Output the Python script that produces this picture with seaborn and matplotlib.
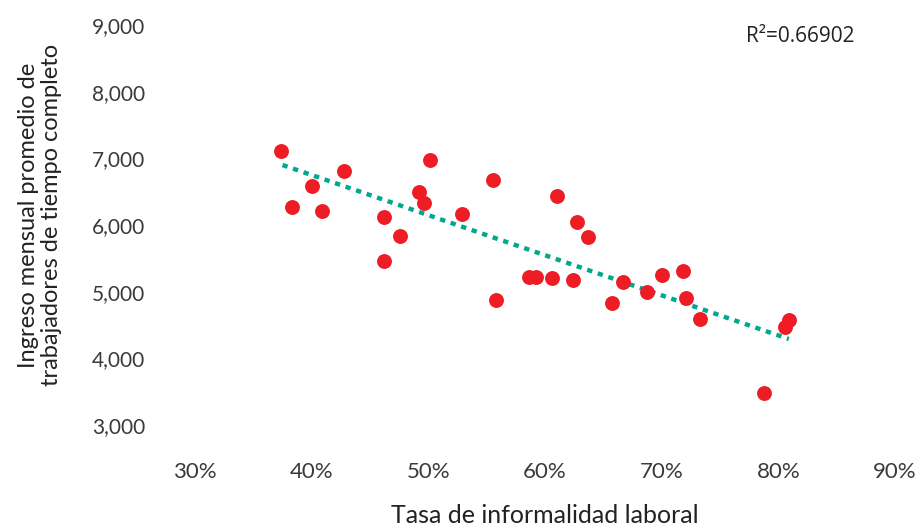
import numpy as np
import pandas as pd
import seaborn as sns
import matplotlib.pyplot as plt
from matplotlib.ticker import FuncFormatter


informality = [
    37.4, 38.3, 40.0, 40.9, 42.8, 46.2, 46.2, 47.6, 49.2, 49.6, 50.1,
    52.9, 55.5, 55.8, 58.6, 59.2, 60.6, 61.0, 62.4, 62.7, 63.7, 65.7,
    66.7, 68.7, 70.0, 71.8, 72.1, 73.3, 78.8, 80.6, 80.9,
]
income = [
    7110, 6270, 6590, 6210, 6810, 6120, 5460, 5840, 6500, 6330, 6980,
    6170, 6670, 4880, 5220, 5220, 5210, 6440, 5180, 6050, 5820, 4830,
    5150, 5000, 5250, 5310, 4910, 4590, 3480, 4470, 4580,
]
# linear trend as drawn in the source (start / end)
trend_x = [37.5, 80.9]
trend_y = [6900, 4290]
r_squared_label = "R²=0.66902"
x_label = "Tasa de informalidad laboral"
y_label = "Ingreso mensual promedio de\ntrabajadores de tiempo completo"
x_ticks = [30, 40, 50, 60, 70, 80, 90]
y_ticks = [3000, 4000, 5000, 6000, 7000, 8000, 9000]

df = pd.DataFrame({"informalidad": informality, "ingreso": income})
trend = pd.DataFrame({"informalidad": trend_x, "ingreso": trend_y})

sns.set_theme(style = "white")
plt.rcParams["font.family"] = ["Lato", "DejaVu Sans"]

fig = plt.figure(figsize = (9.22, 5.28), dpi = 100)
ax = fig.add_axes([195 / 922, 1 - 425 / 528, 700 / 922, 400 / 528])

# dotted trend line first, points drawn on top
sns.lineplot(
    data = trend,
    x = "informalidad",
    y = "ingreso",
    ax = ax,
    color = "#00A88F",
    lw = 3.2,
    linestyle = (0, (1.2, 1.3)),
    dash_capstyle = "butt",
)
sns.scatterplot(
    data = df,
    x = "informalidad",
    y = "ingreso",
    ax = ax,
    color = "#EE1C25",
    s = 115,
    linewidth = 0,
    zorder = 3,
)

ax.set_xlim(30, 90)
ax.set_ylim(3000, 9000)
ax.set_xticks(x_ticks)
ax.set_yticks(y_ticks)
ax.xaxis.set_major_formatter(FuncFormatter(lambda v, _: f"{v:.0f}%"))
ax.yaxis.set_major_formatter(FuncFormatter(lambda v, _: f"{v:,.0f}"))
ax.tick_params(axis = "x", length = 0, pad = 27, labelsize = 16, labelcolor = "#3a3a3a")
ax.tick_params(axis = "y", length = 0, pad = 36, labelsize = 15, labelcolor = "#3a3a3a")
for s in ax.spines.values():
    s.set_visible(False)
ax.grid(False)

ax.set_xlabel(x_label, fontsize = 18, color = "#222222")
ax.set_ylabel(y_label, fontsize = 17, color = "#222222", linespacing = 1.1)
ax.xaxis.set_label_coords(0.5, -0.1975)
ax.yaxis.set_label_coords(-0.19, 0.525)

ax.text(0.864, 0.97, r_squared_label, transform = ax.transAxes,
        ha = "center", va = "center", fontsize = 15, color = "#222222",
        family = ["Open Sans", "DejaVu Sans"])

fig.savefig("out.png", dpi = 100)
